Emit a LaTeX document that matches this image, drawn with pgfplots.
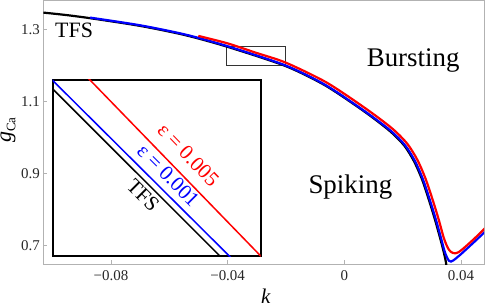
\documentclass[border=0pt]{standalone}
\usepackage{fontspec}
\setmainfont{Liberation Serif}
\usepackage{pgfplots}
\pgfplotsset{compat=1.18}
\begin{document}
\begin{tikzpicture}
\begin{axis}[
  name=main,
  at={(0,0)}, anchor=south west,
  scale only axis, width=440.7bp, height=264bp,
  xmin=-0.10319, xmax=0.04789, ymin=0.6472, ymax=1.3814,
  axis line style={draw=gray!60, line width=0.8bp},
  tick style={draw=gray!60, line width=0.6bp},
  major tick length=4bp,
  tick align=inside,
  xtick={-0.08,-0.04,0,0.04}, xticklabels={−0.08,−0.04,0,0.04},
  ytick={0.7,0.9,1.1,1.3}, yticklabels={0.7,0.9,1.1,1.3},
  xtick pos=bottom, ytick pos=left,
  ticklabel style={font=\fontsize{15}{17}\selectfont, text=black!85},
  xticklabel style={yshift=-2.4bp},
  xlabel={\textit{k}},
  ylabel={\fontsize{22}{24}\selectfont\textit{g}\raisebox{-0.45ex}{\fontsize{13}{15}\selectfont Ca}},
  xlabel style={at={(axis description cs:0.505,-0.12)}, anchor=center, inner sep=0pt, font=\fontsize{21}{24}\selectfont},
  ylabel style={at={(axis description cs:-0.0800,0.5087)}, anchor=center, inner sep=0pt},
  clip=true,
]
\draw[gray!40!black, line width=0.8bp] (axis cs:-0.0403,1.2008) rectangle (axis cs:-0.0203,1.2545);
% TFS (black)
\addplot[black, line width=2.2bp, smooth, tension=0.45] coordinates {
(-0.10319,1.3472) (-0.09575,1.3408) (-0.08718,1.3317) (-0.07004,1.3103) (-0.05461,1.2847)
(-0.04032,1.2528) (-0.02033,1.1992) (-0.00662,1.1450) (0.00651,1.0742) (0.01550,1.0186)
(0.02057,0.9772) (0.02396,0.9328) (0.02671,0.8820) (0.02911,0.8236) (0.03116,0.7692)
(0.03288,0.7192) (0.03404,0.6831) (0.03479,0.6550) (0.03521,0.6314)
};
% epsilon = 0.001 (blue)
\addplot[blue, line width=2.2bp, smooth, tension=0.45] coordinates {
(-0.08718,1.3333) (-0.07004,1.3120) (-0.05461,1.2864) (-0.04032,1.2545) (-0.02033,1.2008)
(-0.00662,1.1467) (0.00651,1.0758) (0.01567,1.0203) (0.02081,0.9786) (0.02424,0.9342)
(0.02698,0.8831) (0.02938,0.8247) (0.03144,0.7703) (0.03315,0.7203) (0.03435,0.6842)
(0.03521,0.6661) (0.03589,0.6570) (0.03658,0.6547) (0.03744,0.6583) (0.03966,0.6731)
(0.04206,0.6908) (0.04481,0.7114) (0.04824,0.7378)
};
% epsilon = 0.005 (red)
\addplot[red, line width=2.2bp, smooth, tension=0.45] coordinates {
(-0.05005,1.2825) (-0.04004,1.2617) (-0.03031,1.2356) (-0.01999,1.2078) (-0.00614,1.1531)
(0.00706,1.0820) (0.01628,1.0258) (0.02153,0.9831) (0.02506,0.9375) (0.02784,0.8856)
(0.03027,0.8270) (0.03233,0.7725) (0.03404,0.7222) (0.03504,0.7008) (0.03572,0.6897)
(0.03651,0.6820) (0.03726,0.6786) (0.03812,0.6778) (0.03915,0.6808) (0.04069,0.6903)
(0.04309,0.7075) (0.04549,0.7256) (0.04824,0.7475)
};
\node[anchor=base west, font=\fontsize{22}{24}\selectfont] at (axis cs:-0.1003,1.2767) {TFS};
\node[anchor=base west, font=\fontsize{27}{30}\selectfont] at (axis cs:0.00651,1.1981) {Bursting};
\node[anchor=base west, font=\fontsize{27}{30}\selectfont] at (axis cs:-0.01347,0.8445) {Spiking};
\end{axis}
\begin{axis}[
  name=inset,
  at={(9.4bp,8.3bp)}, anchor=south west,
  scale only axis, width=208bp, height=176bp,
  xmin=-0.0403, xmax=-0.0203, ymin=1.2008, ymax=1.2545,
  axis line style={draw=black, line width=1.6bp},
  ticks=none,
  axis background/.style={fill=white},
  clip=true,
]
\addplot[black, line width=1.5bp] coordinates {(-0.0406,1.2527) (-0.02422,1.2008) (-0.0239,1.1998)};
\addplot[blue, line width=1.5bp] coordinates {(-0.0406,1.2553) (-0.02332,1.2008) (-0.0230,1.1998)};
\addplot[red, line width=1.5bp] coordinates {(-0.03702,1.2555) (-0.0203,1.2008) (-0.0200,1.1998)};
\node[rotate=-46, text=red, inner sep=0pt, font=\fontsize{21}{23}\selectfont] at (rel axis cs:0.652,0.574) {ε = 0.005};
\node[rotate=-45, text=blue, inner sep=0pt, font=\fontsize{21}{23}\selectfont] at (rel axis cs:0.556,0.458) {ε = 0.001};
\node[rotate=-45, text=black, inner sep=0pt, font=\fontsize{21}{23}\selectfont] at (rel axis cs:0.435,0.346) {TFS};
\end{axis}
\pgfresetboundingbox
\path[use as bounding box] (-43.3bp,-41.7bp) rectangle (441.7bp,264.3bp);
\end{tikzpicture}
\end{document}
